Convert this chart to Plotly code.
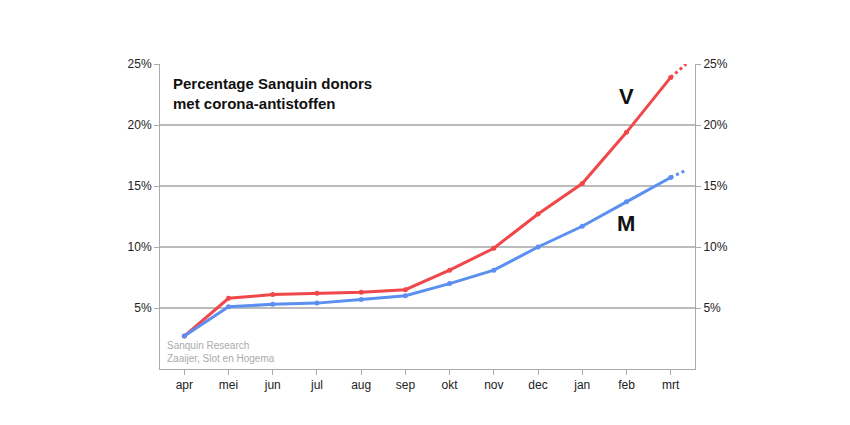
import plotly.graph_objects as go

months = ["apr","mei","jun","jul","aug","sep","okt","nov","dec","jan","feb","mrt"]
v_vals = [2.7,5.8,6.1,6.2,6.3,6.5,8.1,9.9,12.7,15.2,19.4,23.9]
m_vals = [2.7,5.1,5.3,5.4,5.7,6.0,7.0,8.1,10.0,11.7,13.7,15.7]
v_ext = [23.9,25.0]
m_ext = [15.7,16.3]
ext_x = [11,11.35]
yticks = [5,10,15,20,25]
red = "#f0474a"; blue = "#5b8ff0"
x = list(range(len(months)))

fig = go.Figure()
for vals, ext, c in [(v_vals, v_ext, red), (m_vals, m_ext, blue)]:
    fig.add_trace(go.Scatter(x=x, y=vals, mode="lines+markers", line=dict(color=c, width=3),
                             marker=dict(size=5, color=c), showlegend=False))
    fig.add_trace(go.Scatter(x=ext_x, y=ext, mode="lines", line=dict(color=c, width=3, dash="dot"),
                             showlegend=False))
fig.add_trace(go.Scatter(x=[0], y=[0], yaxis="y2", mode="markers", marker=dict(opacity=0), showlegend=False, hoverinfo="skip"))

ax_font = dict(family="Liberation Sans, Arial", size=12, color="#222")
fig.update_layout(
    width=850, height=425, plot_bgcolor="white", paper_bgcolor="white",
    margin=dict(l=152, r=163, t=56, b=64),
    xaxis=dict(range=[-0.55, 11.55], tickvals=x, ticktext=months, showgrid=False,
               showline=True, linecolor="#aaa", ticks="outside", tickcolor="#aaa",
               ticklen=5, tickfont=ax_font, zeroline=False),
    yaxis=dict(range=[0, 25], tickvals=yticks, ticktext=[f"{t}%" for t in yticks],
               showgrid=True, gridcolor="#bbb", gridwidth=1.5, showline=True, linecolor="#aaa",
               ticks="outside", tickcolor="#aaa", ticklen=5, tickfont=ax_font, zeroline=False),
    yaxis2=dict(range=[0, 25], overlaying="y", side="right", tickvals=yticks,
                ticktext=[f"{t}%" for t in yticks], showgrid=False, showline=True, linecolor="#aaa",
                ticks="outside", tickcolor="#aaa", ticklen=5, tickfont=ax_font, zeroline=False),
    annotations=[
        dict(x=0.02, y=0.97, xref="paper", yref="paper", xanchor="left", yanchor="top", showarrow=False,
             align="left", text="<b>Percentage Sanquin donors<br>met corona-antistoffen</b>",
             font=dict(family="Liberation Sans, Arial", size=15, color="#111")),
        dict(x=10.0, y=22.3, text="<b>V</b>", showarrow=False, font=dict(family="Liberation Sans, Arial", size=22, color="#111")),
        dict(x=10.0, y=11.9, text="<b>M</b>", showarrow=False, font=dict(family="Liberation Sans, Arial", size=22, color="#111")),
        dict(x=0.01, y=0.01, xref="paper", yref="paper", xanchor="left", yanchor="bottom", showarrow=False,
             align="left", text="Sanquin Research<br>Zaaijer, Slot en Hogema",
             font=dict(family="Liberation Sans, Arial", size=10, color="#aaa")),
    ],
)
fig.write_html("out.html")
